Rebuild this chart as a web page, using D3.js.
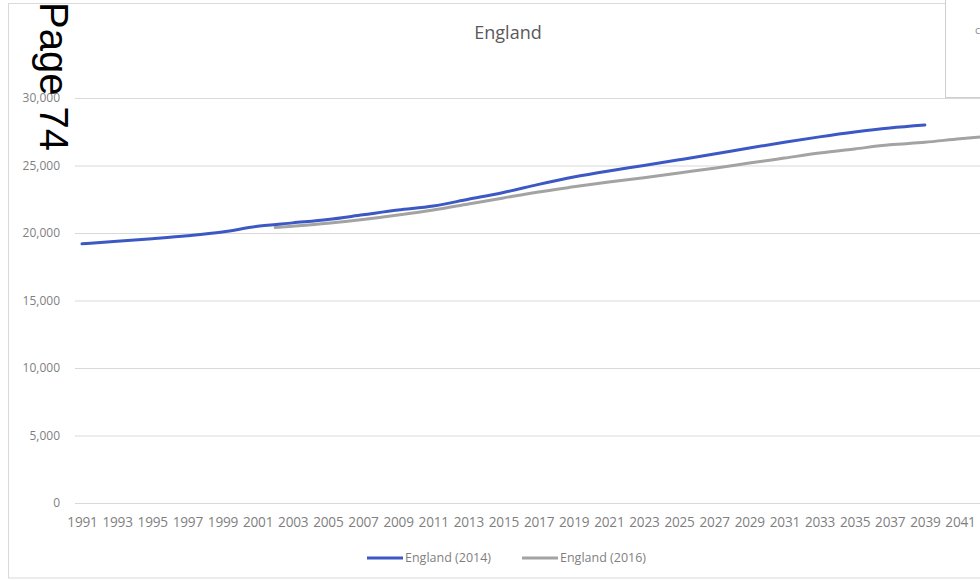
<!DOCTYPE html>
<html>
<head>
<meta charset="utf-8">
<script src="https://cdn.jsdelivr.net/npm/d3@7"></script>
<style>
  body { margin: 0; background: #fff; }
  svg { display: block; }
</style>
</head>
<body>
<script>
// chart values
var yearTicks = [1991,1993,1995,1997,1999,2001,2003,2005,2007,2009,2011,2013,2015,2017,2019,2021,2023,2025,2027,2029,2031,2033,2035,2037,2039,2041];
var yTicks = [0, 5000, 10000, 15000, 20000, 25000, 30000];

var years2014 = [1991,1993,1995,1997,1999,2001,2003,2005,2007,2009,2011,2013,2015,2017,2019,2021,2023,2025,2027,2029,2031,2033,2035,2037,2039];
var england2014 = [19200,19380,19580,19800,20080,20500,20750,21000,21350,21700,22000,22500,23000,23600,24150,24600,25000,25420,25850,26300,26720,27120,27480,27780,28000];

var years2016 = [2002,2003,2005,2007,2009,2011,2013,2015,2017,2019,2021,2023,2025,2027,2029,2031,2033,2035,2037,2039,2041,2043];
var england2016 = [20400,20500,20720,21000,21330,21700,22150,22600,23040,23420,23780,24100,24450,24800,25180,25550,25920,26230,26530,26720,26980,27200];

var seriesNames = ['England (2014)', 'England (2016)'];
var seriesColors = ['#3c58c4', '#a3a3a3'];

var W = 980, H = 580;
var svg = d3.select('body').append('svg')
            .attr('width', W)
            .attr('height', H);

var x = d3.scaleLinear().domain([1991, 2041]).range([82, 960]);
var y = d3.scaleLinear().domain([0, 30000]).range([503, 98]);

//outer chart border
svg.append('rect')
   .attr('x', 8.5).attr('y', 3.5)
   .attr('width', 1000).attr('height', 574.5)
   .attr('fill', 'none')
   .attr('stroke', '#d9d9d9');

//title
svg.append('text')
   .attr('x', 508).attr('y', 39)
   .attr('text-anchor', 'middle')
   .style('font-family', 'Open Sans, sans-serif')
   .style('font-size', '18px')
   .style('fill', '#595959')
   .text('England');

//y axis + gridlines
var yAxis = svg.append('g')
   .attr('transform', 'translate(75,0)')
   .call(d3.axisLeft(y).tickValues(yTicks).tickSize(-(W - 75)).tickPadding(15).tickFormat(d3.format(',')));
yAxis.select('.domain').remove();
yAxis.selectAll('line').attr('stroke', '#d9d9d9');
yAxis.selectAll('text')
     .style('font-family', 'Open Sans, sans-serif')
     .style('font-size', '12px')
     .style('fill', '#7f7f7f');

//x axis labels
var xAxis = svg.append('g')
   .attr('transform', 'translate(0,503)')
   .call(d3.axisBottom(x).tickValues(yearTicks).tickSize(0).tickPadding(14).tickFormat(d3.format('d')));
xAxis.select('.domain').remove();
xAxis.selectAll('text')
     .style('font-family', 'Open Sans, sans-serif')
     .style('font-size', '13.6px')
     .style('letter-spacing', '-0.2px')
     .style('fill', '#7f7f7f');

//lines
var line = d3.line()
             .x(function(d){ return x(d[0]); })
             .y(function(d){ return y(d[1]); })
             .curve(d3.curveMonotoneX);

var series = [
  d3.zip(years2016, england2016),
  d3.zip(years2014, england2014)
];
var seriesCol = [seriesColors[1], seriesColors[0]];

svg.selectAll('.series')
   .data(series)
   .enter()
   .append('path')
   .attr('class', 'series')
   .attr('d', line)
   .attr('fill', 'none')
   .attr('stroke', function(d, i){ return seriesCol[i]; })
   .attr('stroke-width', 3)
   .attr('stroke-linecap', 'round');

//overlapping panel at top right
svg.append('rect')
   .attr('x', 945.5).attr('y', -5)
   .attr('width', 60).attr('height', 102.5)
   .attr('fill', '#fff')
   .attr('stroke', '#cfcfcf');
svg.append('text')
   .attr('x', 975).attr('y', 34)
   .style('font-family', 'Open Sans, sans-serif')
   .style('font-size', '11px')
   .style('fill', '#8a8a8a')
   .text('c');

//legend
var legendX = [367, 522];
var legend = svg.selectAll('.legend')
   .data(seriesNames)
   .enter()
   .append('g')
   .attr('class', 'legend')
   .attr('transform', function(d, i){ return 'translate(' + legendX[i] + ',558)'; });
legend.append('line')
      .attr('x1', 0).attr('x2', 36)
      .attr('stroke', function(d, i){ return seriesColors[i]; })
      .attr('stroke-width', 3);
legend.append('text')
      .attr('x', 38).attr('dy', '0.35em')
      .style('font-family', 'Open Sans, sans-serif')
      .style('font-size', '12.5px')
      .style('fill', '#7f7f7f')
      .text(function(d){ return d; });

//page stamp
svg.append('text')
   .attr('transform', 'translate(40,2) rotate(90)')
   .style('font-family', 'Liberation Sans, Arial, sans-serif')
   .style('font-size', '40px')
   .style('fill', '#000')
   .text('Page 74');
</script>
</body>
</html>
